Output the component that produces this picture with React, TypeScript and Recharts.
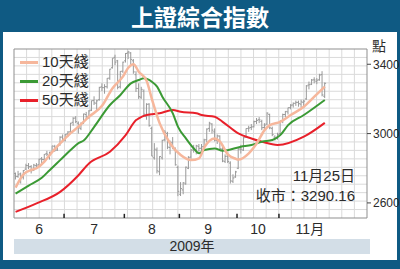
import React from 'react'
import { ComposedChart, Bar, Line, XAxis, YAxis, CartesianGrid, ReferenceLine, ReferenceArea } from 'recharts'

// trading days, 2009-06-04 .. 2009-11-25
const dates = [
  '6/4', '6/5', '6/8', '6/9', '6/10', '6/11', '6/12', '6/15', '6/16', '6/17', '6/18', '6/19', '6/22', '6/23', '6/24', '6/25', '6/26', '6/29', '6/30',
  '7/1', '7/2', '7/3', '7/6', '7/7', '7/8', '7/9', '7/10', '7/13', '7/14', '7/15', '7/16', '7/17', '7/20', '7/21', '7/22', '7/23', '7/24', '7/27', '7/28', '7/29', '7/30', '7/31',
  '8/3', '8/4', '8/5', '8/6', '8/7', '8/10', '8/11', '8/12', '8/13', '8/14', '8/17', '8/18', '8/19', '8/20', '8/21', '8/24', '8/25', '8/26', '8/27', '8/28', '8/31',
  '9/1', '9/2', '9/3', '9/4', '9/7', '9/8', '9/9', '9/10', '9/11', '9/14', '9/15', '9/16', '9/17', '9/18', '9/21', '9/22', '9/23', '9/24', '9/25', '9/28', '9/29', '9/30',
  '10/9', '10/12', '10/13', '10/14', '10/15', '10/16', '10/19', '10/20', '10/21', '10/22', '10/23', '10/26', '10/27', '10/28', '10/29', '10/30',
  '11/2', '11/3', '11/4', '11/5', '11/6', '11/9', '11/10', '11/11', '11/12', '11/13', '11/16', '11/17', '11/18', '11/19', '11/20', '11/23', '11/24', '11/25',
]
const opens = [
  2770, 2752, 2768, 2748, 2795, 2815, 2810, 2790, 2815, 2820, 2855, 2850, 2885, 2870, 2895, 2925, 2905, 2935, 2980,
  2960, 2998, 3010, 3065, 3090, 3060, 3030, 3060, 3110, 3100, 3135, 3190, 3175, 3195, 3270, 3265, 3270, 3320, 3380, 3440, 3420, 3270, 3360,
  3420, 3465, 3465, 3420, 3340, 3260, 3210, 3245, 3100, 3170, 3030, 2860, 2905, 2780, 2860, 2965, 3000, 2920, 2950, 2905, 2805,
  2650, 2675, 2710, 2800, 2865, 2905, 2905, 2925, 2915, 2925, 2965, 3030, 3055, 3010, 2960, 2985, 2910, 2840, 2870, 2830, 2725, 2750,
  2800, 2910, 2905, 2980, 3030, 3035, 3040, 3070, 3080, 3070, 3035, 3055, 3110, 3030, 2980, 2980,
  3000, 3075, 3110, 3125, 3150, 3165, 3175, 3180, 3170, 3180, 3200, 3280, 3285, 3310, 3300, 3310, 3340, 3215,
]
const highs = [
  2775, 2785, 2775, 2790, 2826, 2830, 2818, 2825, 2830, 2855, 2865, 2882, 2900, 2895, 2930, 2935, 2935, 2985, 2995,
  2997, 3014, 3062, 3095, 3101, 3070, 3065, 3115, 3125, 3135, 3190, 3215, 3195, 3270, 3290, 3285, 3320, 3373, 3435, 3455, 3425, 3360, 3415,
  3465, 3478, 3470, 3430, 3360, 3290, 3270, 3255, 3175, 3175, 3040, 2945, 2920, 2870, 2965, 3020, 3010, 2960, 2980, 2920, 2815,
  2720, 2720, 2810, 2870, 2910, 2935, 2935, 2940, 2940, 2970, 3030, 3068, 3060, 3030, 2995, 2990, 2925, 2880, 2880, 2840, 2765, 2785,
  2915, 2935, 2980, 3030, 3045, 3055, 3075, 3090, 3095, 3080, 3060, 3123, 3115, 3040, 2990, 3005,
  3075, 3115, 3130, 3150, 3170, 3180, 3190, 3190, 3195, 3195, 3280, 3300, 3315, 3325, 3320, 3345, 3360, 3295,
]
const lows = [
  2735, 2745, 2712, 2735, 2790, 2795, 2770, 2784, 2795, 2810, 2830, 2840, 2870, 2850, 2890, 2895, 2900, 2930, 2950,
  2955, 2980, 3005, 3045, 3060, 3000, 3020, 3055, 3080, 3085, 3130, 3165, 3130, 3190, 3245, 3230, 3260, 3310, 3375, 3395, 3255, 3260, 3350,
  3410, 3430, 3400, 3345, 3240, 3200, 3200, 3100, 3080, 3040, 2870, 2850, 2770, 2760, 2850, 2955, 2910, 2880, 2910, 2815, 2639,
  2640, 2650, 2705, 2795, 2855, 2890, 2880, 2895, 2900, 2915, 2950, 3010, 3000, 2955, 2940, 2905, 2835, 2830, 2830, 2712, 2715, 2745,
  2795, 2885, 2900, 2975, 3010, 3020, 3035, 3055, 3060, 3020, 3025, 3050, 3025, 2985, 2960, 2965,
  2995, 3060, 3095, 3110, 3140, 3150, 3160, 3155, 3150, 3150, 3195, 3255, 3280, 3290, 3285, 3305, 3215, 3205,
]
const closes = [
  2752, 2765, 2752, 2787, 2816, 2809, 2786, 2818, 2818, 2852, 2851, 2880, 2881, 2892, 2929, 2905, 2930, 2979, 2959,
  2995, 3009, 3060, 3088, 3069, 3034, 3058, 3113, 3096, 3131, 3190, 3177, 3189, 3266, 3265, 3271, 3319, 3372, 3435, 3412, 3267, 3359, 3412,
  3462, 3471, 3428, 3356, 3261, 3213, 3255, 3112, 3169, 3046, 2870, 2910, 2785, 2868, 2960, 3008, 2922, 2948, 2920, 2820, 2667,
  2683, 2716, 2806, 2861, 2906, 2915, 2930, 2915, 2924, 2963, 3026, 3060, 3020, 2963, 2987, 2913, 2842, 2868, 2839, 2727, 2744, 2779,
  2911, 2910, 2976, 3029, 3032, 3038, 3069, 3076, 3079, 3034, 3049, 3118, 3033, 2994, 2975, 2995,
  3073, 3110, 3128, 3149, 3164, 3174, 3180, 3173, 3183, 3187, 3275, 3282, 3309, 3309, 3308, 3338, 3223, 3290,
]

// moving averages
const ma10Dates = ['6/4', '6/9', '6/12', '6/16', '6/19', '6/23', '6/29', '7/3', '7/8', '7/14', '7/21', '7/27', '7/31', '8/4', '8/6', '8/10', '8/13', '8/17', '8/20', '8/26', '9/1', '9/7', '9/10', '9/14', '9/18', '9/22', '9/25', '9/30', '10/9', '10/15', '10/20', '10/23', '10/27', '11/2', '11/6', '11/13', '11/19', '11/25']
const ma10Values = [2688, 2765, 2790, 2800, 2838, 2876, 2943, 3003, 3040, 3097, 3160, 3262, 3330, 3380, 3400, 3357, 3305, 3200, 3059, 2943, 2876, 2847, 2857, 2920, 2972, 2953, 2880, 2855, 2850, 2886, 2943, 3020, 3049, 3068, 3107, 3155, 3213, 3271]
const ma20Dates = ['6/4', '6/11', '6/18', '6/23', '6/29', '7/3', '7/8', '7/10', '7/16', '7/24', '7/30', '8/5', '8/10', '8/12', '8/17', '8/19', '8/21', '8/27', '8/31', '9/3', '9/8', '9/10', '9/14', '9/18', '9/23', '10/12', '10/16', '10/22', '10/28', '11/2', '11/5', '11/13', '11/25']
const ma20Values = [2654, 2700, 2745, 2789, 2847, 2905, 2945, 2960, 3039, 3165, 3223, 3290, 3309, 3319, 3299, 3271, 3213, 3117, 3039, 2972, 2914, 2886, 2905, 2914, 2901, 2924, 2934, 2953, 2963, 2991, 3049, 3107, 3194]
const ma50Dates = ['6/4', '6/16', '6/29', '7/8', '7/14', '7/24', '8/3', '8/7', '8/10', '8/13', '8/20', '8/27', '9/1', '9/9', '9/11', '9/18', '9/23', '10/9', '10/16', '10/22', '10/30', '11/13', '11/25']
const ma50Values = [2548, 2597, 2664, 2760, 2828, 2895, 2991, 3078, 3088, 3107, 3117, 3136, 3126, 3117, 3107, 3097, 3068, 3001, 2972, 2953, 2934, 2982, 3062]

const monthLabels = ['6', '7', '8', '9', '10', '11月']
const monthLabelPos = [12, 33, 55, 76.5, 95.5, 115.3]
const monthBreaks = [21.5, 44.5, 65.5, 87.5, 103.5]
const yTicks = [2600, 3000, 3400]

const FIRST_DAY = 3
const X_DOMAIN = [2.4, 137.1]
const Y_DOMAIN = [2513, 3488]

const data: any[] = dates.map((d, i) => ({
  x: FIRST_DAY + i,
  date: d,
  o: opens[i],
  h: highs[i],
  l: lows[i],
  c: closes[i],
  hl: [lows[i], highs[i]],
}))

function addMa(key: string, ds: string[], vs: number[]) {
  ds.forEach((d, k) => {
    const row = data.find((r) => r.date === d)
    if (row) row[key] = vs[k]
  })
}
addMa('ma10', ma10Dates, ma10Values)
addMa('ma20', ma20Dates, ma20Values)
addMa('ma50', ma50Dates, ma50Values)

const C10 = '#f6b79c'
const C20 = '#3b9a35'
const C50 = '#e8202a'
const TXT = '#2b2b2b'
const LATIN = "'Liberation Sans', 'Noto Sans CJK TC', sans-serif"

const OhlcBar = (p: any) => {
  const { x, y, width, height, payload } = p
  if (y == null || height == null) return null
  const top = Math.min(y, y + height)
  const span = Math.abs(height)
  const range = payload.h - payload.l || 1
  const toY = (v: number) => top + ((payload.h - v) / range) * span
  const cx = x + width / 2
  return (
    <g stroke="#999999" strokeWidth={1}>
      <line x1={cx} x2={cx} y1={top} y2={top + span} />
      <line x1={cx - 1.4} x2={cx} y1={toY(payload.o)} y2={toY(payload.o)} />
      <line x1={cx} x2={cx + 1.4} y1={toY(payload.c)} y2={toY(payload.c)} />
    </g>
  )
}

const MonthTick = (p: any) => {
  const k = monthLabelPos.indexOf(p.payload.value)
  return (
    <text x={p.x} y={234} textAnchor="middle" fontSize={14} fill={TXT} fontFamily={LATIN}>
      {monthLabels[k]}
    </text>
  )
}

const legend = [
  { label: '10天綫', color: C10, y: 62 },
  { label: '20天綫', color: C20, y: 81 },
  { label: '50天綫', color: C50, y: 100 },
]

export default function App() {
  return (
    <div style={{ position: 'absolute', left: 0, top: 0, width: 400, height: 269, background: '#0f5a83', overflow: 'hidden' }}>
      <div style={{ position: 'absolute', left: 0, top: 0, width: 400, height: 32, lineHeight: '32px', textAlign: 'center', color: '#fff', fontWeight: 'bold', fontSize: 23, fontFamily: "'Noto Sans CJK TC', sans-serif" }}>
        上證綜合指數
      </div>
      <div style={{ position: 'absolute', left: 3, top: 32, width: 394, height: 228, background: '#fff' }} />
      <div style={{ position: 'absolute', left: 14, top: 239, width: 356, height: 15, lineHeight: '15px', background: '#d3dee7', textAlign: 'center', fontSize: 14, color: TXT, fontFamily: LATIN }}>
        2009年
      </div>
      <div style={{ position: 'absolute', left: 0, top: 0 }}>
        <ComposedChart width={400} height={269} data={data} margin={{ top: 49, right: 3, bottom: 31, left: 14 }}>
          <CartesianGrid
            stroke="#dadada"
            verticalCoordinatesGenerator={({ offset }: any) => Array.from({ length: 27 }, (_, k) => offset.left + (offset.width * (k + 1)) / 28)}
            horizontalCoordinatesGenerator={({ offset }: any) => Array.from({ length: 19 }, (_, k) => offset.top + (offset.height * (k + 1)) / 20)}
          />
          <XAxis type="number" dataKey="x" domain={X_DOMAIN} allowDataOverflow ticks={monthLabelPos} interval={0} axisLine={false} tickLine={false} height={20} tick={<MonthTick />} />
          <YAxis orientation="right" domain={Y_DOMAIN} allowDataOverflow ticks={yTicks} axisLine={false} tickSize={4} tickMargin={2} width={30} tickLine={{ stroke: '#444' }} tick={{ fontSize: 12, fill: TXT, fontFamily: "'Liberation Sans Narrow', 'Liberation Sans', sans-serif" }} />
          <Bar dataKey="hl" barSize={3} shape={<OhlcBar />} isAnimationActive={false} />
          <Line type="monotone" dataKey="ma50" stroke={C50} strokeWidth={2} dot={false} connectNulls isAnimationActive={false} />
          <Line type="monotone" dataKey="ma20" stroke={C20} strokeWidth={2} dot={false} connectNulls isAnimationActive={false} />
          <Line type="monotone" dataKey="ma10" stroke={C10} strokeWidth={2.5} dot={false} connectNulls isAnimationActive={false} />
          <ReferenceArea x1={X_DOMAIN[0]} x2={X_DOMAIN[1]} y1={Y_DOMAIN[0]} y2={Y_DOMAIN[1]} stroke="#8f8f8f" strokeWidth={1} fill="none" fillOpacity={0} />
          {monthBreaks.map((b) => (
            <ReferenceLine key={b} segment={[{ x: b, y: Y_DOMAIN[0] }, { x: b, y: Y_DOMAIN[0] + 24 }]} stroke="#222" strokeWidth={1.5} />
          ))}
        </ComposedChart>
      </div>
      {legend.map((r) => (
        <div key={r.label}>
          <div style={{ position: 'absolute', left: 20, top: r.y - 1, width: 18, height: 2.5, background: r.color }} />
          <div style={{ position: 'absolute', left: 42, top: r.y - 10, lineHeight: '20px', fontSize: 15, color: TXT, fontFamily: LATIN }}>{r.label}</div>
        </div>
      ))}
      <div style={{ position: 'absolute', right: 45, top: 166, lineHeight: '20px', fontSize: 15, color: TXT, fontFamily: LATIN, textAlign: 'right' }}>11月25日</div>
      <div style={{ position: 'absolute', right: 45, top: 186, lineHeight: '20px', fontSize: 15, color: TXT, fontFamily: LATIN, textAlign: 'right' }}>收市：3290.16</div>
      <div style={{ position: 'absolute', left: 372, top: 36, lineHeight: '18px', fontSize: 14, color: TXT, fontFamily: "'Noto Sans CJK TC', sans-serif" }}>點</div>
    </div>
  )
}
